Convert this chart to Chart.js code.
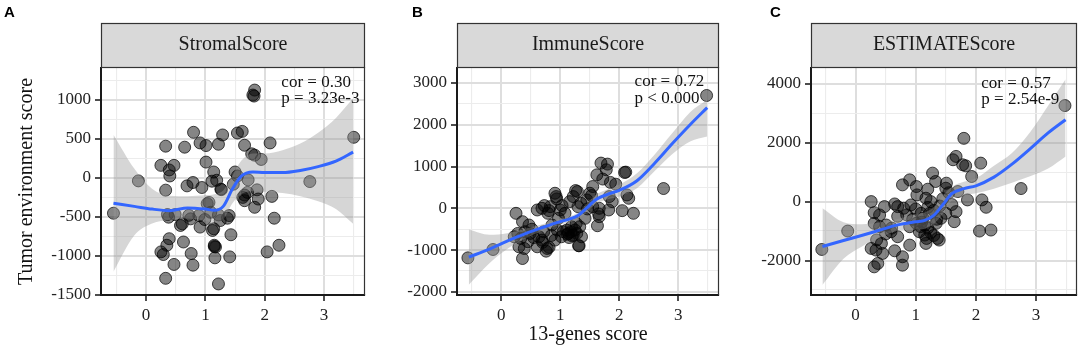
<!DOCTYPE html>
<html>
<head>
<meta charset="utf-8">
<script src="https://cdn.jsdelivr.net/npm/chart.js@4.4.1/dist/chart.umd.min.js"></script>
<style>
  body { margin: 0; background: #fff; width: 1084px; height: 351px; overflow: hidden; position: relative; }
  canvas { position: absolute; top: 0; }
</style>
</head>
<body>
<canvas id="chartA" width="372" height="351" style="left:0px"></canvas>
<canvas id="chartB" width="354" height="351" style="left:372px"></canvas>
<canvas id="chartC" width="358" height="351" style="left:726px"></canvas>
<script>
// ---- data ----
const panelTitles = ['StromalScore', 'ImmuneScore', 'ESTIMATEScore'];
const panelLetters = ['A', 'B', 'C'];
const corLabels = ['cor = 0.30', 'cor = 0.72', 'cor = 0.57'];
const pLabels = ['p = 3.23e-3', 'p < 0.000', 'p = 2.54e-9'];

const geneTicks = [0, 1, 2, 3];
const stromalTicks = [-1500, -1000, -500, 0, 500, 1000];
const immuneTicks = [-2000, -1000, 0, 1000, 2000, 3000];
const estimateTicks = [-2000, 0, 2000, 4000];

const stromalX = [-0.55,-0.13,0.33,0.65,0.80,0.91,1.01,1.29,1.22,1.54,1.62,1.66,1.83,1.80,1.82,1.78,1.83,1.94,2.09,3.50,2.76,0.25,0.47,0.39,0.40,1.01,1.14,1.11,1.19,1.26,1.27,1.50,1.54,1.72,0.33,0.69,0.79,0.94,1.06,1.47,1.66,1.71,1.66,1.87,1.83,2.12,2.16,2.24,2.04,0.36,0.38,0.49,0.61,0.58,0.75,0.89,0.91,0.99,1.14,1.12,1.25,1.37,1.40,1.22,1.09,0.39,0.35,0.25,0.29,0.47,0.63,0.76,0.79,1.15,1.17,1.16,1.41,1.43,0.33,1.22,1.89,1.63,1.03,0.72,1.15];
const stromalY = [-453,-38,407,394,585,449,415,551,432,576,597,419,1127,1063,1050,309,292,237,449,521,-47,161,161,102,25,203,76,-42,-30,-144,-150,76,25,-25,-157,-102,-59,-123,-314,-81,-220,-186,-292,-153,-377,-237,-517,-864,-949,-470,-504,-470,-589,-610,-525,-483,-631,-534,-652,-674,-547,-517,-483,-475,-441,-780,-864,-949,-983,-1110,-822,-970,-1119,-864,-886,-1025,-1013,-729,-1288,-1360,-271,-250,-330,-480,-880];

const immuneX = [-0.565,-0.14,3.48,2.75,0.25,0.36,0.47,0.28,0.22,0.33,0.30,0.39,0.36,0.64,0.61,0.69,0.78,0.76,0.69,0.79,0.91,0.93,0.83,1.00,0.97,0.86,0.91,1.02,1.11,1.14,1.22,1.19,1.27,1.33,1.36,1.32,1.42,1.22,1.29,1.16,1.30,1.50,1.55,1.55,1.66,1.66,1.63,1.69,1.80,1.62,1.78,1.94,2.09,1.83,1.88,1.82,2.05,2.13,2.16,2.24,1.08,0.61,0.72,0.49,
  1.05,1.12,1.18,1.25,1.28,1.15,1.20,0.95,0.55,0.45,0.40,0.52,0.85,1.35,1.45,1.72,1.85,1.26,1.53,0.94,0.73,0.81,1.03,1.46,1.65,2.11,0.70,0.81,1.31];
const immuneY = [-1186,-986,2700,473,-120,-320,-400,-601,-681,-721,-921,-962,-1202,-681,-921,-761,-962,-1026,0,-120,360,280,40,-40,-240,-400,-761,-681,-521,-601,-641,-441,-361,-441,-681,-897,-240,280,401,160,40,360,521,40,0,-200,-417,1082,1058,801,922,577,857,280,160,-40,-56,320,240,-120,-120,-40,-561,-601,
  -560,-620,-560,-520,-600,-700,-660,-520,-700,-800,-560,-500,-650,120,200,700,620,425,305,225,65,-55,65,-15,-135,866,-815,-935,-895];

const estimateX = [-0.56,-0.13,3.48,2.75,1.80,1.67,1.62,1.78,1.83,2.08,1.93,1.28,0.90,0.78,1.01,1.02,1.20,1.33,1.51,1.50,1.25,1.17,1.70,1.86,2.10,2.17,2.06,2.25,0.26,0.31,0.40,0.48,0.65,0.70,0.80,0.92,0.31,0.40,0.59,0.70,0.90,1.09,1.12,1.23,1.34,1.42,1.67,1.64,1.15,1.17,1.36,1.39,1.06,0.43,0.26,0.34,0.45,0.37,0.31,0.65,0.78,0.78,0.51,0.90,1.01,1.50,
  1.10,1.15,1.20,1.25,1.30,1.18,1.08,0.95,0.85,1.30,1.40,1.45,1.55,1.60,1.35,0.60,0.50,0.35,0.70,1.00,1.20];
const estimateY = [-1625,-1000,3260,443,2147,1534,1420,1250,1215,1306,852,966,738,568,511,227,420,682,625,454,0,114,341,57,57,-193,-1000,-966,0,-375,-454,-170,-80,-170,-227,-114,-738,-852,-1022,-1193,-1477,-398,-568,-398,-738,-568,-341,-682,-1136,-1420,-1250,-1306,-1022,-1420,-1590,-1647,-1760,-2100,-2215,-1670,-1874,-2158,-795,-852,-738,-398,
  -700,-800,-900,-1050,-1150,-1250,-850,-600,-450,-300,-150,100,300,-100,-600,-900,-1100,-1300,-500,-250,-200];

// loess curves and their confidence bands
const fitX = [-0.55,-0.2,0.1,0.4,0.7,1.0,1.15,1.3,1.45,1.6,1.8,2.0,2.3,2.6,2.9,3.2,3.49];
const stromalFit   = [-326,-365,-400,-420,-385,-400,-415,-365,-150,20,76,68,68,95,145,215,330];
const stromalUpper = [555,120,-140,-228,-235,-220,-208,-160,20,216,313,313,355,440,580,770,1021];
const stromalLower = [-1203,-740,-585,-540,-520,-547,-568,-530,-330,-210,-170,-178,-195,-235,-300,-400,-589];
const immuneFit   = [-1170,-975,-785,-610,-460,-320,-260,-170,10,205,335,430,660,1080,1550,2000,2410];
const immuneUpper = [-510,-635,-595,-490,-380,-250,-195,-100,110,320,455,565,840,1290,1800,2300,2600];
const immuneLower = [-1830,-1315,-975,-730,-540,-390,-335,-260,-90,100,215,285,480,890,1300,1600,1720];
const estimateFit   = [-1525,-1320,-1150,-970,-790,-685,-640,-470,-110,270,440,534,830,1270,1790,2330,2780];
const estimateUpper = [-227,-700,-770,-710,-590,-425,-360,-190,200,500,670,790,1220,1650,2350,3250,4150];
const estimateLower = [-2830,-1940,-1530,-1230,-990,-945,-920,-750,-420,40,210,280,440,640,860,1120,1530];

// ---- drawing ----
const SERIF = "'Liberation Serif', 'Times New Roman', serif";

function zip(xs, ys) {
  return xs.map((x, i) => ({ x: x, y: ys[i] }));
}

// major ticks plus the half-way minor grid lines
function gridValues(major, min, max) {
  const step = major[1] - major[0];
  const half = step / 2;
  const out = [];
  for (let v = Math.ceil(min / half) * half; v <= max + 1e-9; v += half) {
    out.push(Math.round(v * 1000) / 1000);
  }
  return out;
}

function isMajor(major, v) {
  return major.some(m => Math.abs(m - v) < 1e-6);
}

const panelDecor = {
  id: 'panelDecor',
  afterDraw(chart, args, o) {
    const ctx = chart.ctx;
    const a = chart.chartArea;
    const sx = chart.scales.x, sy = chart.scales.y;
    ctx.save();
    // strip
    ctx.fillStyle = '#D9D9D9';
    ctx.fillRect(a.left, 23, a.right - a.left, 44);
    ctx.strokeStyle = '#333';
    ctx.lineWidth = 1.2;
    ctx.strokeRect(a.left + 0.5, 23.5, a.right - a.left - 1, 44);
    ctx.fillStyle = '#1a1a1a';
    ctx.font = '20px ' + SERIF;
    ctx.textAlign = 'center';
    ctx.textBaseline = 'middle';
    ctx.fillText(o.title, (a.left + a.right) / 2, 45);
    // right border
    ctx.beginPath();
    ctx.moveTo(a.right - 0.5, 67);
    ctx.lineTo(a.right - 0.5, a.bottom);
    ctx.lineWidth = 1.2;
    ctx.stroke();
    // correlation text
    ctx.font = '17px ' + SERIF;
    ctx.textAlign = 'left';
    ctx.fillStyle = '#111';
    ctx.fillText(o.cor, sx.getPixelForValue(o.annX), sy.getPixelForValue(o.annY[0]));
    ctx.fillText(o.p, sx.getPixelForValue(o.annX), sy.getPixelForValue(o.annY[1]));
    // panel letter
    ctx.font = "bold 15px 'Liberation Sans', Arial, sans-serif";
    ctx.textBaseline = 'alphabetic';
    ctx.fillStyle = '#000';
    ctx.fillText(o.letter, o.letterX, 17);
    ctx.restore();
  }
};

function makePanel(cfg) {
  const xGrid = gridValues(geneTicks, cfg.xMin, cfg.xMax);
  const yGrid = gridValues(cfg.yTicks, cfg.yMin, cfg.yMax);
  const gridOpts = (major) => ({
    color: c => (c.tick && isMajor(major, c.tick.value)) ? '#DEDEDE' : '#ECECEC',
    lineWidth: c => (c.tick && isMajor(major, c.tick.value)) ? 2 : 1.1,
    tickColor: c => (c.tick && isMajor(major, c.tick.value)) ? '#222' : 'rgba(0,0,0,0)',
    tickLength: 6,
    tickWidth: 1.6
  });

  new Chart(document.getElementById(cfg.id), {
    type: 'line',
    data: {
      datasets: [{
        data: zip(cfg.xs, cfg.ys),
        showLine: false,
        pointRadius: 6,
        pointHoverRadius: 6,
        pointBackgroundColor: 'rgba(0,0,0,0.48)',
        pointBorderColor: 'rgba(0,0,0,0.7)',
        pointBorderWidth: 1,
        order: 4
      }, {
        data: zip(fitX, cfg.upper),
        borderWidth: 0,
        borderColor: 'rgba(0,0,0,0)',
        pointRadius: 0,
        tension: 0.4,
        cubicInterpolationMode: 'monotone',
        fill: false,
        order: 3
      }, {
        data: zip(fitX, cfg.lower),
        borderWidth: 0,
        borderColor: 'rgba(0,0,0,0)',
        pointRadius: 0,
        tension: 0.4,
        cubicInterpolationMode: 'monotone',
        fill: '-1',
        backgroundColor: 'rgba(153,153,153,0.4)',
        order: 3
      }, {
        data: zip(fitX, cfg.fit),
        borderColor: '#3366FF',
        borderWidth: 3,
        pointRadius: 0,
        tension: 0.4,
        cubicInterpolationMode: 'monotone',
        fill: false,
        order: 1
      }]
    },
    options: {
      responsive: false,
      animation: false,
      events: [],
      layout: { padding: { left: cfg.padLeft, right: cfg.padRight, top: 68, bottom: 0 } },
      plugins: {
        legend: { display: false },
        tooltip: { enabled: false },
        panelDecor: {
          title: cfg.title, cor: cfg.cor, p: cfg.p, annX: cfg.annX, annY: cfg.annY,
          letter: cfg.letter, letterX: cfg.letterX
        }
      },
      scales: {
        x: {
          type: 'linear',
          position: 'bottom',
          min: cfg.xMin,
          max: cfg.xMax,
          afterBuildTicks: s => { s.ticks = xGrid.map(v => ({ value: v })); },
          afterFit: s => { s.height = 56; },
          grid: gridOpts(geneTicks),
          border: { display: true, color: '#1a1a1a', width: 2 },
          ticks: {
            autoSkip: false, maxRotation: 0, padding: 4, color: '#222',
            font: { family: SERIF, size: 17 },
            callback: v => isMajor(geneTicks, v) ? String(v) : ''
          },
          title: {
            display: !!cfg.xTitle, text: cfg.xTitle || '', color: '#111',
            font: { family: SERIF, size: 20 }, padding: { top: 0, bottom: 4 }
          }
        },
        y: {
          type: 'linear',
          position: 'left',
          min: cfg.yMin,
          max: cfg.yMax,
          afterBuildTicks: s => { s.ticks = yGrid.map(v => ({ value: v })); },
          afterFit: s => { s.width = cfg.yWidth; },
          grid: gridOpts(cfg.yTicks),
          border: { display: true, color: '#1a1a1a', width: 2 },
          ticks: {
            autoSkip: false, padding: 4, color: '#222',
            font: { family: SERIF, size: 17 },
            callback: v => isMajor(cfg.yTicks, v) ? String(v) : ''
          },
          title: {
            display: !!cfg.yTitle, text: cfg.yTitle || '', color: '#111',
            font: { family: SERIF, size: 20 }, padding: { top: 4, bottom: 0 }
          }
        }
      }
    },
    plugins: [panelDecor]
  });
}

makePanel({
  id: 'chartA', xs: stromalX, ys: stromalY,
  fit: stromalFit, upper: stromalUpper, lower: stromalLower,
  yTicks: stromalTicks, yMin: -1502, yMax: 1410, xMin: -0.76, xMax: 3.69,
  padLeft: 11, yWidth: 90, padRight: 3,
  yTitle: 'Tumor environment score',
  title: panelTitles[0], cor: corLabels[0], p: pLabels[0],
  annX: 2.28, annY: [1225, 1013], letter: panelLetters[0], letterX: 4
});

makePanel({
  id: 'chartB', xs: immuneX, ys: immuneY,
  fit: immuneFit, upper: immuneUpper, lower: immuneLower,
  yTicks: immuneTicks, yMin: -2075, yMax: 3358, xMin: -0.75, xMax: 3.69,
  padLeft: 0, yWidth: 85, padRight: 3,
  xTitle: '13-genes score',
  title: panelTitles[1], cor: corLabels[1], p: pLabels[1],
  annX: 2.26, annY: [3046, 2637], letter: panelLetters[1], letterX: 40
});

makePanel({
  id: 'chartC', xs: estimateX, ys: estimateY,
  fit: estimateFit, upper: estimateUpper, lower: estimateLower,
  yTicks: estimateTicks, yMin: -3171, yMax: 4535, xMin: -0.74, xMax: 3.68,
  padLeft: 0, yWidth: 85, padRight: 6,
  title: panelTitles[2], cor: corLabels[2], p: pLabels[2],
  annX: 2.09, annY: [4014, 3468], letter: panelLetters[2], letterX: 44
});
</script>
</body>
</html>
